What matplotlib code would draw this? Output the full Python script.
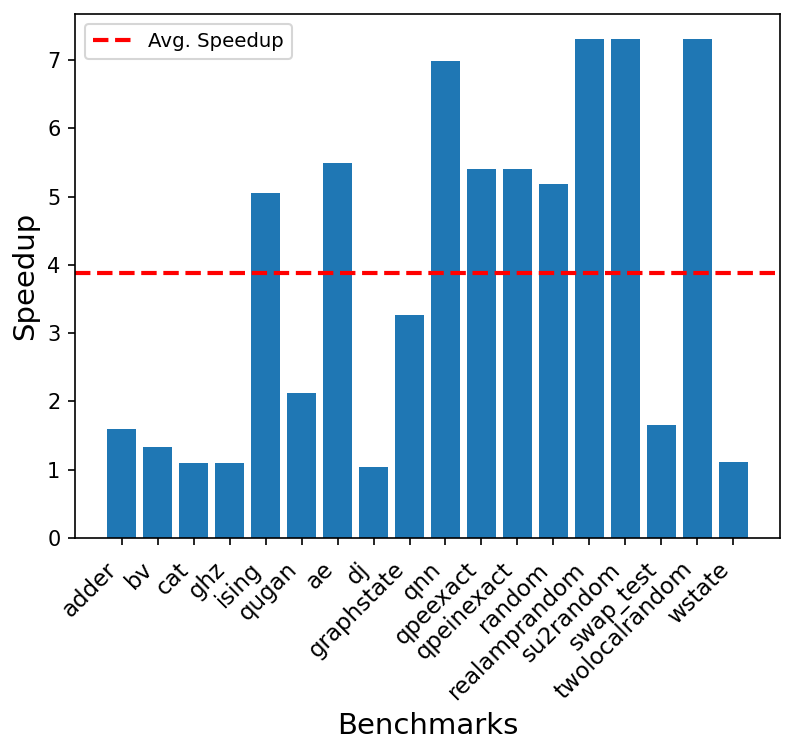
import matplotlib
matplotlib.use("Agg")
import matplotlib.pyplot as plt
import numpy as np

benchmarks = ["adder", "bv", "cat", "ghz", "ising", "qugan", "ae", "dj", "graphstate",
              "qnn", "qpeexact", "qpeinexact", "random", "realamprandom", "su2random",
              "swap_test", "twolocalrandom", "wstate"]
speedup = [1.60, 1.33, 1.10, 1.10, 5.05, 2.13, 5.50, 1.04, 3.26,
           6.98, 5.41, 5.41, 5.18, 7.31, 7.31, 1.66, 7.31, 1.12]
avg_speedup = float(np.mean(speedup))

fig = plt.figure(figsize=(794/150, 752/150), dpi=150)
ax = fig.add_axes([75/794, 1-538/752, 705/794, (538-14)/752])
x = np.arange(len(benchmarks))
ax.bar(x, speedup, color="#1f77b4")
ax.axhline(avg_speedup, color="red", linestyle="--", linewidth=2, label="Avg. Speedup")
ax.set_xlim(-1.3, 18.3)
ax.set_xticks(x)
ax.set_xticklabels(benchmarks, rotation=45, ha="right", fontsize=11)
ax.tick_params(axis="x", pad=6)
ax.set_ylabel("Speedup", fontsize=14)
ax.set_xlabel("Benchmarks", fontsize=14)
ax.legend(loc="upper left", fontsize=9.5)
fig.savefig("out.png", dpi=150)
